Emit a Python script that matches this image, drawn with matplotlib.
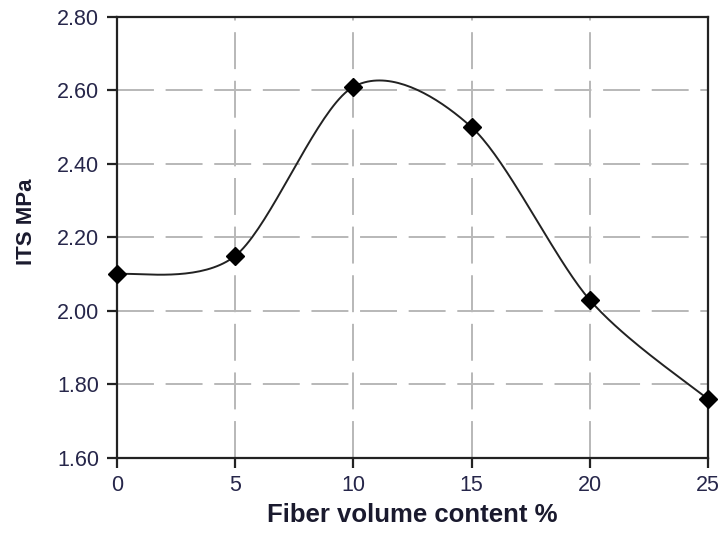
import numpy as np
import matplotlib.pyplot as plt

fiber = [0, 5, 10, 15, 20, 25]
its = [2.10, 2.15, 2.61, 2.50, 2.03, 1.76]
xticks = [0, 5, 10, 15, 20, 25]
yticks = [1.60, 1.80, 2.00, 2.20, 2.40, 2.60, 2.80]

plt.rcParams['font.family'] = ['Liberation Sans', 'DejaVu Sans']


def smooth(xs, ys, n=40):
    # catmull-rom through the points (like a spreadsheet smoothed line)
    px = [xs[0]] + list(xs) + [xs[-1]]
    py = [ys[0]] + list(ys) + [ys[-1]]
    ox, oy = [], []
    t = np.linspace(0, 1, n)
    for i in range(1, len(px) - 2):
        p0, p1, p2, p3 = (np.array([px[j], py[j]]) for j in range(i - 1, i + 3))
        m1 = (p2 - p0) / 2 * 0.9
        m2 = (p3 - p1) / 2 * 0.9
        h00 = 2*t**3 - 3*t**2 + 1
        h10 = t**3 - 2*t**2 + t
        h01 = -2*t**3 + 3*t**2
        h11 = t**3 - t**2
        pts = np.outer(h00, p1) + np.outer(h10, m1) + np.outer(h01, p2) + np.outer(h11, m2)
        ox.extend(pts[:, 0])
        oy.extend(pts[:, 1])
    return ox, oy


fig = plt.figure(figsize=(7.27, 5.35), dpi=100)
ax = fig.add_axes([117/727, 1 - 458/535, 591/727, 441/535])

sx, sy = smooth(fiber, its)
ax.plot(sx, sy, color='#222222', lw=1.4, zorder=3)
ax.plot(fiber, its, linestyle='none', marker='D', ms=9.5, color='black', zorder=4, clip_on=False)

ax.set_xlim(0, 25)
ax.set_ylim(1.6, 2.8)
ax.set_xticks(xticks)
ax.set_yticks(yticks)
ax.set_yticklabels([f'{v:.2f}' for v in yticks])
ax.grid(True, color='#b8b8b8', linestyle=(0, (19, 6)), lw=1.4)
ax.set_axisbelow(True)
for s in ax.spines.values():
    s.set_linewidth(1.6)
    s.set_color('#222222')
ax.tick_params(direction='out', length=7, width=1.6, labelsize=15.5, color='#222222',
               labelcolor='#26264a')
ax.tick_params(axis='y', pad=6)
ax.tick_params(axis='x', pad=5)

ax.set_xlabel('Fiber volume content %', fontsize=18.5, fontweight='bold', labelpad=5,
              color='#1a1a2e')
ax.set_ylabel('ITS MPa', fontsize=16, fontweight='bold', color='#1a1a2e')
ax.yaxis.set_label_coords(-0.136, 0.535)

fig.savefig('out.png', dpi=100)
